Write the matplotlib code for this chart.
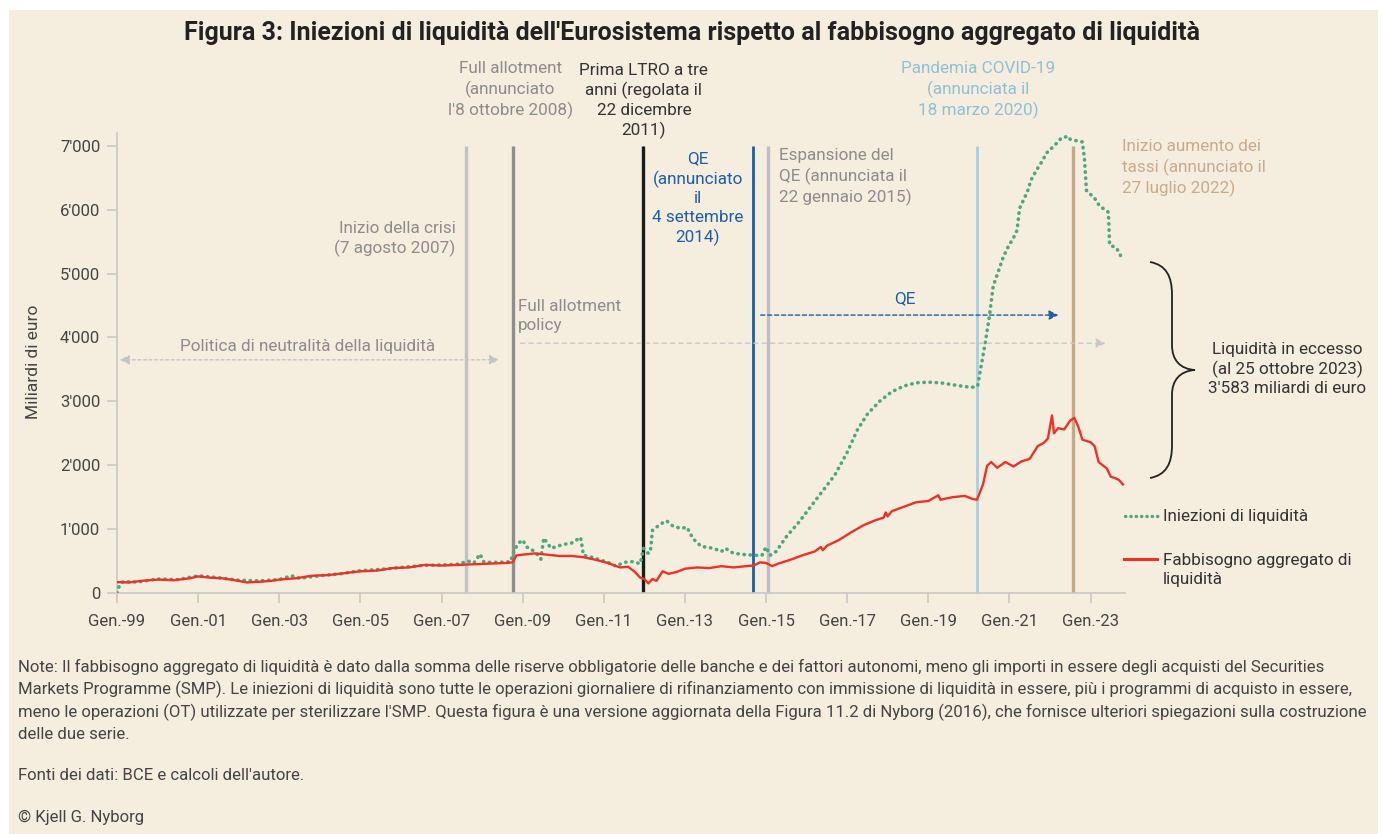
import numpy as np
import matplotlib
matplotlib.use("Agg")
import matplotlib.pyplot as plt
from matplotlib.lines import Line2D
from matplotlib.patches import Rectangle, PathPatch
from matplotlib.path import Path
from matplotlib.ticker import FuncFormatter

plt.rcParams['font.family'] = ['Roboto', 'DejaVu Sans']

# data (decimal years, billions of euro)
red_t = [1999.0, 1999.3, 1999.6, 2000.0, 2000.4, 2000.8, 2001.0, 2001.3, 2001.6, 2001.9,
         2002.2, 2002.5, 2002.8, 2003.0, 2003.4, 2003.8, 2004.2, 2004.6, 2005.0, 2005.4,
         2005.8, 2006.2, 2006.6, 2007.0, 2007.4, 2007.8, 2008.2, 2008.6, 2008.75, 2008.85,
         2009.0, 2009.3, 2009.6, 2009.9, 2010.2, 2010.5, 2010.8, 2011.1, 2011.4, 2011.6,
         2011.75, 2011.9, 2012.0, 2012.1, 2012.2, 2012.3, 2012.45, 2012.6, 2012.8, 2013.0,
         2013.3, 2013.6, 2013.9, 2014.2, 2014.5, 2014.7, 2014.85, 2015.0, 2015.15, 2015.3,
         2015.6, 2015.9, 2016.2, 2016.35, 2016.4, 2016.5, 2016.8, 2017.1, 2017.4, 2017.7,
         2017.9, 2017.95, 2018.0, 2018.1, 2018.4, 2018.7, 2019.0, 2019.25, 2019.3, 2019.6,
         2019.9, 2020.1, 2020.2, 2020.35, 2020.45, 2020.55, 2020.7, 2020.9, 2021.1, 2021.3,
         2021.5, 2021.7, 2021.85, 2021.95, 2022.05, 2022.1, 2022.2, 2022.35, 2022.5, 2022.6,
         2022.7, 2022.8, 2022.9, 2023.0, 2023.1, 2023.2, 2023.3, 2023.4, 2023.5, 2023.6,
         2023.7, 2023.8]
red_v = [170, 165, 190, 210, 200, 230, 260, 240, 230, 200,
         165, 175, 190, 210, 230, 270, 280, 310, 340, 350,
         390, 400, 440, 430, 440, 450, 460, 470, 480, 590,
         600, 620, 600, 580, 580, 560, 520, 470, 400, 410,
         340, 240, 220, 150, 220, 190, 340, 300, 330, 380,
         400, 390, 420, 400, 420, 430, 480, 470, 420, 460,
         520, 590, 650, 720, 670, 740, 830, 950, 1060, 1140,
         1180, 1260, 1200, 1280, 1350, 1420, 1440, 1530, 1460, 1500,
         1520, 1470, 1460, 1700, 1990, 2050, 1960, 2050, 1980, 2060,
         2100, 2300, 2350, 2420, 2780, 2500, 2580, 2560, 2700, 2740,
         2600, 2400, 2380, 2360, 2300, 2050, 2000, 1950, 1820, 1800,
         1770, 1700]

green_t = [1999.0, 1999.05, 1999.15, 1999.5, 2000.0, 2000.5, 2001.0, 2001.5, 2002.0, 2002.5,
           2003.0, 2003.3, 2003.5, 2004.0, 2004.5, 2005.0, 2005.5, 2006.0, 2006.5, 2007.0,
           2007.4, 2007.65, 2007.8, 2007.95, 2008.05, 2008.4, 2008.7, 2008.8, 2008.9, 2009.0,
           2009.1, 2009.3, 2009.45, 2009.52, 2009.7, 2010.0, 2010.2, 2010.43, 2010.5, 2010.7,
           2010.9, 2011.1, 2011.3, 2011.5, 2011.7, 2011.9, 2011.98, 2012.1, 2012.15, 2012.2,
           2012.4, 2012.55, 2012.7, 2012.9, 2013.05, 2013.2, 2013.4, 2013.7, 2013.9, 2014.0,
           2014.2, 2014.5, 2014.75, 2014.9, 2015.0, 2015.1, 2015.25, 2015.5, 2015.8, 2016.1,
           2016.4, 2016.7, 2017.0, 2017.25, 2017.5, 2017.8, 2018.1, 2018.4, 2018.7, 2019.0,
           2019.3, 2019.6, 2019.9, 2020.15, 2020.22, 2020.3, 2020.4, 2020.5, 2020.6, 2020.85,
           2020.97, 2021.1, 2021.19, 2021.25, 2021.37, 2021.46, 2021.53, 2021.67, 2021.8, 2021.92,
           2022.12, 2022.28, 2022.45, 2022.5, 2022.65, 2022.8, 2022.85, 2022.9, 2023.1, 2023.22,
           2023.44, 2023.47, 2023.64, 2023.75]
green_v = [0, 100, 180, 170, 220, 210, 270, 240, 200, 190,
           210, 270, 230, 270, 300, 350, 370, 400, 430, 440,
           450, 500, 470, 610, 480, 480, 490, 680, 780, 830,
           720, 650, 530, 860, 700, 760, 780, 870, 590, 560,
           520, 480, 420, 480, 490, 460, 700, 620, 650, 980,
           1080, 1130, 1050, 1010, 1030, 850, 730, 700, 650, 700,
           620, 600, 590, 590, 720, 590, 650, 880, 1100, 1350,
           1600, 1850, 2200, 2550, 2800, 3000, 3150, 3240, 3290, 3300,
           3290, 3260, 3230, 3220, 3250, 3540, 3900, 4300, 4800, 5260,
           5420, 5560, 5680, 6020, 6180, 6310, 6460, 6620, 6750, 6890,
           7010, 7120, 7150, 7100, 7080, 7060, 6800, 6300, 6180, 6060,
           5960, 5450, 5400, 5270]

year_ticks = [1999, 2001, 2003, 2005, 2007, 2009, 2011, 2013, 2015, 2017, 2019, 2021, 2023]
year_labels = ['Gen.-99', 'Gen.-01', 'Gen.-03', 'Gen.-05', 'Gen.-07', 'Gen.-09', 'Gen.-11',
               'Gen.-13', 'Gen.-15', 'Gen.-17', 'Gen.-19', 'Gen.-21', 'Gen.-23']
y_ticks = [0, 1000, 2000, 3000, 4000, 5000, 6000, 7000]

# event dates (decimal years)
ev_dates = [2007.60, 2008.77, 2011.97, 2014.68, 2015.06, 2020.21, 2022.57]
ev_colors = ['#c2c2c2', '#8e8e8e', '#1b1b1b', '#1c5ea8', '#bdbdc5', '#a8cfe0', '#c7a882']
ev_widths = [2.4, 2.4, 2.4, 2.0, 2.4, 2.0, 2.4]

bg = '#f5eedf'
grey_txt = '#8c8c8c'
dark = '#333333'
green = '#4ea77f'
red = '#ec3128'
fs = 12.3

W, H = 1385, 834
fig = plt.figure(figsize=(W / 100, H / 100), dpi=100, facecolor='white')
fig.add_artist(Rectangle((9 / W, 0), (1378 - 9) / W, 1 - 10 / H, transform=fig.transFigure,
                         facecolor=bg, edgecolor='none', zorder=-10))

ax = fig.add_axes([117 / W, 1 - 593 / H, (1125 - 117) / W, (593 - 133) / H])
ax.patch.set_alpha(0)

for d, c, w in zip(ev_dates, ev_colors, ev_widths):
    ax.plot([d, d], [0, 7000], color=c, lw=w, solid_capstyle='butt', zorder=2)

ax.plot(green_t, green_v, color=green, lw=2.6, dashes=(0.1, 1.6), dash_capstyle='round', zorder=3)
ax.plot(red_t, red_v, color=red, lw=1.7, zorder=4)

ax.set_xlim(1999, 2023.85)
ax.set_ylim(0, 7200)
ax.set_xticks(year_ticks)
ax.set_xticklabels(year_labels)
ax.set_yticks(y_ticks)
ax.yaxis.set_major_formatter(FuncFormatter(lambda v, p: '0' if v == 0 else f"{int(v):,}".replace(',', "'")))
for s in ['top', 'right']:
    ax.spines[s].set_visible(False)
for s in ['left', 'bottom']:
    ax.spines[s].set_color('#c8c8c8')
    ax.spines[s].set_linewidth(1.2)
ax.tick_params(axis='x', length=7, width=1.2, color='#c8c8c8', labelsize=12, labelcolor='#444444', pad=8)
ax.tick_params(axis='y', length=7, width=1.2, color='#c8c8c8', labelsize=12, labelcolor='#444444', pad=5)
fig.text(33 / W, 1 - 362 / H, 'Miliardi di euro', rotation=90, ha='center', va='center',
         fontsize=12.5, color='#444444')

# annotations
kw = dict(fontsize=fs, linespacing=1.3, clip_on=False)
ax.text(2008.70, 7870, "Full allotment\n(annunciato\nl'8 ottobre 2008)", ha='center', va='center', color=grey_txt, **kw)
ax.text(2011.99, 7700, "Prima LTRO a tre\nanni (regolata il\n22 dicembre\n2011)", ha='center', va='center', color=dark, **kw)
ax.text(2013.32, 6170, "QE\n(annunciato\nil\n4 settembre\n2014)", ha='center', va='center', color='#1c5ea8', **kw)
ax.text(2015.32, 6510, "Espansione del\nQE (annunciata il\n22 gennaio 2015)", ha='left', va='center', color=grey_txt, **kw)
ax.text(2007.35, 5540, "Inizio della crisi\n(7 agosto 2007)", ha='right', va='center', color=grey_txt, **kw)
ax.text(2008.88, 4335, "Full allotment\npolicy", ha='left', va='center', color=grey_txt, **kw)
ax.text(2003.69, 3865, "Politica di neutralità della liquidità", ha='center', va='center', color=grey_txt, **kw)
ax.text(2018.43, 4615, "QE", ha='center', va='center', color='#1c5ea8', **kw)
ax.text(2020.23, 7870, "Pandemia COVID-19\n(annunciata il\n18 marzo 2020)", ha='center', va='center', color='#8fc0d6', **kw)
ax.text(2023.77, 6650, "Inizio aumento dei\ntassi (annunciato il\n27 luglio 2022)", ha='left', va='center', color='#c9ab8c', **kw)

ax.annotate('', xy=(2008.49, 3650), xytext=(1999.0, 3650),
            arrowprops=dict(arrowstyle='<|-|>', linestyle=(0, (2, 2)), color='#c4c4c4', lw=1.0, mutation_scale=14))
ax.annotate('', xy=(2023.44, 3910), xytext=(2008.88, 3910),
            arrowprops=dict(arrowstyle='-|>', linestyle=(0, (3, 3)), color='#c8c8c8', lw=1.0, mutation_scale=14))
ax.annotate('', xy=(2022.28, 4350), xytext=(2014.80, 4350),
            arrowprops=dict(arrowstyle='-|>', linestyle=(0, (3, 2)), color='#1c5ea8', lw=1.0, mutation_scale=14))

# curly brace for excess liquidity
def P(x, y):
    return (x / W, 1 - y / H)

verts = [P(1150, 262),
         P(1166, 265), P(1172, 276), P(1172, 295),
         P(1172, 345),
         P(1172, 360), P(1180, 369), P(1195, 370),
         P(1180, 371), P(1172, 380), P(1172, 395),
         P(1172, 445),
         P(1172, 464), P(1166, 475), P(1150, 478)]
codes = [Path.MOVETO,
         Path.CURVE4, Path.CURVE4, Path.CURVE4,
         Path.LINETO,
         Path.CURVE4, Path.CURVE4, Path.CURVE4,
         Path.CURVE4, Path.CURVE4, Path.CURVE4,
         Path.LINETO,
         Path.CURVE4, Path.CURVE4, Path.CURVE4]
fig.add_artist(PathPatch(Path(verts, codes), transform=fig.transFigure, facecolor='none',
                         edgecolor='#222222', lw=1.3))
fig.text(1287 / W, 1 - 369 / H, "Liquidità in eccesso\n(al 25 ottobre 2023)\n3'583 miliardi di euro",
         ha='center', va='center', fontsize=fs, linespacing=1.3, color=dark)

# legend drawn by hand
fig.add_artist(Line2D([1125 / W, 1161 / W], [1 - 516 / H] * 2, color=green, lw=2.4,
                      dashes=(0.1, 1.5), dash_capstyle='round'))
fig.text(1163 / W, 1 - 516 / H, "Iniezioni di liquidità", ha='left', va='center', fontsize=fs, color=dark)
fig.add_artist(Line2D([1124 / W, 1157 / W], [1 - 559 / H] * 2, color=red, lw=2.2))
fig.text(1163 / W, 1 - 570 / H, "Fabbisogno aggregato di\nliquidità", ha='left', va='center',
         fontsize=fs, linespacing=1.3, color=dark)

fig.text(692 / W, 1 - 33 / H,
         "Figura 3: Iniezioni di liquidità dell'Eurosistema rispetto al fabbisogno aggregato di liquidità",
         ha='center', va='center', fontsize=18, fontweight='bold', color='#222222')

note = ("Note: Il fabbisogno aggregato di liquidità è dato dalla somma delle riserve obbligatorie delle banche e dei fattori autonomi, meno gli importi in essere degli acquisti del Securities\n"
        "Markets Programme (SMP). Le iniezioni di liquidità sono tutte le operazioni giornaliere di rifinanziamento con immissione di liquidità in essere, più i programmi di acquisto in essere,\n"
        "meno le operazioni (OT) utilizzate per sterilizzare l'SMP. Questa figura è una versione aggiornata della Figura 11.2 di Nyborg (2016), che fornisce ulteriori spiegazioni sulla costruzione\n"
        "delle due serie.")
fig.text(18 / W, 1 - 659 / H, note, ha='left', va='top', fontsize=12.1, linespacing=1.44, color='#444444')
fig.text(18 / W, 1 - 775 / H, "Fonti dei dati: BCE e calcoli dell'autore.", ha='left', va='center', fontsize=12.1, color='#444444')
fig.text(18 / W, 1 - 817 / H, "© Kjell G. Nyborg", ha='left', va='center', fontsize=12.1, color='#444444')

fig.savefig('out.png', dpi=100, facecolor='white')
